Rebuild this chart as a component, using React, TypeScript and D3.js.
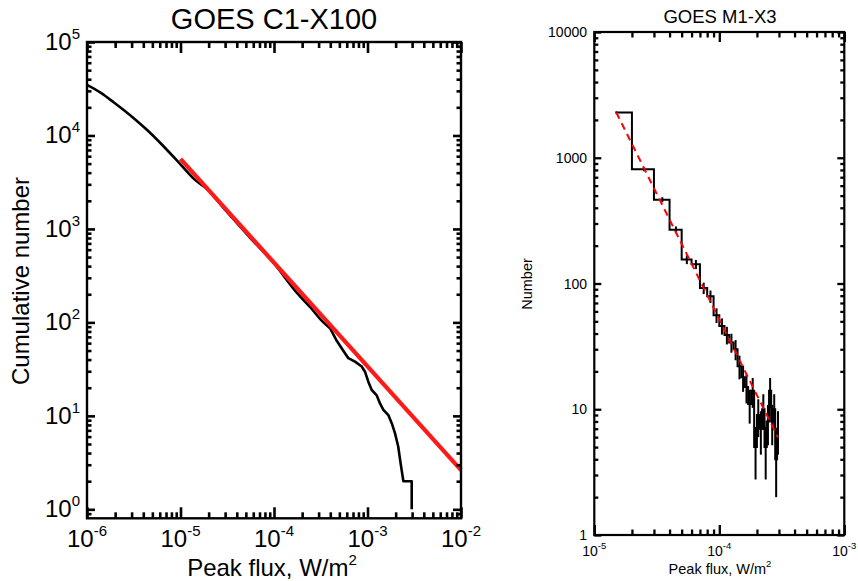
import React, { useEffect, useRef } from 'react';
import * as d3 from 'd3';

// ---------- Left panel data (cumulative distribution) ----------
const leftFlux = [
  1e-6, 1.41e-6, 1.91e-6, 3.16e-6, 4.37e-6, 6.31e-6, 1e-5, 1.41e-5, 1.91e-5, 3.16e-5,
  5.62e-5, 1e-4, 1.78e-4, 2.51e-4, 3.16e-4, 3.97e-4, 4.69e-4, 5.51e-4, 6.24e-4, 7.35e-4,
  8.67e-4, 9.4e-4, 1.02e-3, 1.11e-3, 1.25e-3, 1.36e-3, 1.48e-3, 1.67e-3, 1.82e-3, 1.97e-3,
  2.13e-3, 2.26e-3, 2.42e-3, 2.97e-3, 2.97e-3,
];
const leftCount = [
  34700, 28500, 22800, 15300, 11500, 8000, 4900, 3390, 2690, 1510,
  794, 427, 204, 141, 107, 86.7, 63.5, 49.7, 41.4, 38.0,
  33.7, 29.7, 23.2, 18.9, 16.7, 13.6, 11.6, 10.2, 8.3, 6.5,
  4.7, 3.1, 2, 2, 1,
];
const leftFitFlux = [1e-5, 1e-2];
const leftFitCount = [5620, 2.63];
const leftXTicks = [1e-6, 1e-5, 1e-4, 1e-3, 1e-2];
const leftXTickExp = ['-6', '-5', '-4', '-3', '-2'];
const leftYTicks = [1, 10, 100, 1e3, 1e4, 1e5];
const leftYTickExp = ['0', '1', '2', '3', '4', '5'];

// ---------- Right panel data (differential histogram) ----------
const rightFlux = [
  1.5e-5, 2.5e-5, 3.5e-5, 4.5e-5, 5.5e-5, 6.5e-5, 7.5e-5, 8.5e-5, 9.5e-5, 10.5e-5,
  11.5e-5, 12.5e-5, 13.5e-5, 14.5e-5, 15.5e-5, 16.5e-5, 17.5e-5, 18.5e-5, 19.5e-5, 20.5e-5,
  21.5e-5, 22.5e-5, 23.5e-5, 24.5e-5, 25.5e-5, 26.5e-5, 27.5e-5, 28.5e-5, 29.5e-5,
];
const rightCounts = [
  2290, 810, 464, 268, 155, 142, 92, 79, 56, 46,
  39, 34, 30, 22, 18, 15, 11, 14, 5, 9,
  7, 10, 5, 8, 14, 8, 10, 4, 7,
];
const rightFitFlux = [1.5e-5, 2.95e-4];
const rightFitCount = [2290, 5.96];
const rightXTicks = [1e-5, 1e-4, 1e-3];
const rightXTickExp = ['-5', '-4', '-3'];
const rightYTicks = [1, 10, 100, 1000, 10000];
const rightYTickLabels = ['1', '10', '100', '1000', '10000'];

const FONT = "'Liberation Sans', Arial, Helvetica, sans-serif";

function minorTicks(lo: number, hi: number): number[] {
  const out: number[] = [];
  const dStart = Math.floor(Math.log10(lo)) - 1;
  const dEnd = Math.ceil(Math.log10(hi));
  for (let d = dStart; d <= dEnd; d++) {
    for (let m = 2; m <= 9; m++) {
      const v = m * Math.pow(10, d);
      if (v >= lo * 0.999 && v <= hi * 1.001) out.push(v);
    }
  }
  return out;
}

// Draws inward ticks on all four sides of a boxed log-log frame with d3-axis
function drawFrameAxes(
  g: SVGGElement, sx: any, sy: any,
  xMajor: number[], yMajor: number[],
  xMajLen: number, xMinLen: number, yMajLen: number, yMinLen: number, sw: number,
) {
  const sel = d3.select(g);
  sel.selectAll('*').remove();
  const xr = sx.range();
  const yr = sy.range();
  const L = xr[0], R = xr[1], B = yr[0], T = yr[1];
  const xd = sx.domain();
  const yd = sy.domain();
  const xMinor = minorTicks(xd[0], xd[1]);
  const yMinor = minorTicks(yd[0], yd[1]);
  const mk = (axis: any, tr: string) => {
    const a = sel.append('g').attr('transform', tr).call(axis);
    a.select('.domain').remove();
    a.selectAll('text').remove();
    a.selectAll('line').attr('stroke', '#000').attr('stroke-width', sw);
  };
  mk(d3.axisBottom(sx).tickValues(xMajor).tickSizeInner(-xMajLen).tickSizeOuter(0), `translate(0,${B})`);
  mk(d3.axisBottom(sx).tickValues(xMinor).tickSizeInner(-xMinLen).tickSizeOuter(0), `translate(0,${B})`);
  mk(d3.axisTop(sx).tickValues(xMajor).tickSizeInner(-xMajLen).tickSizeOuter(0), `translate(0,${T})`);
  mk(d3.axisTop(sx).tickValues(xMinor).tickSizeInner(-xMinLen).tickSizeOuter(0), `translate(0,${T})`);
  mk(d3.axisLeft(sy).tickValues(yMajor).tickSizeInner(-yMajLen).tickSizeOuter(0), `translate(${L},0)`);
  mk(d3.axisLeft(sy).tickValues(yMinor).tickSizeInner(-yMinLen).tickSizeOuter(0), `translate(${L},0)`);
  mk(d3.axisRight(sy).tickValues(yMajor).tickSizeInner(-yMajLen).tickSizeOuter(0), `translate(${R},0)`);
  mk(d3.axisRight(sy).tickValues(yMinor).tickSizeInner(-yMinLen).tickSizeOuter(0), `translate(${R},0)`);
}

export default function App() {
  const leftAxesRef = useRef<SVGGElement>(null);
  const rightAxesRef = useRef<SVGGElement>(null);

  const lx = d3.scaleLog().domain([1e-6, 1e-2]).range([87, 461]);
  const ly = d3.scaleLog().domain([Math.pow(10, -0.096), 1e5]).range([518.3, 42]);
  const rx = d3.scaleLog().domain([1e-5, 1e-3]).range([594.3, 844.3]);
  const ry = d3.scaleLog().domain([1, 10000]).range([535, 32]);

  useEffect(() => {
    if (leftAxesRef.current) drawFrameAxes(leftAxesRef.current, lx, ly, leftXTicks, leftYTicks, 11, 6, 8, 4.5, 2.6);
    if (rightAxesRef.current) drawFrameAxes(rightAxesRef.current, rx, ry, rightXTicks, rightYTicks, 10, 5.5, 7, 4, 2.3);
  }, []);

  const nSmooth = 16;
  const smoothLine = d3.line<number>()
    .x((_, i) => lx(leftFlux[i]))
    .y((d) => ly(d))
    .curve(d3.curveMonotoneX);
  const tailLine = d3.line<number>()
    .x((_, i) => lx(leftFlux[i + nSmooth - 1]))
    .y((d) => ly(d));
  const leftFit = d3.line<number>().x((_, i) => lx(leftFitFlux[i])).y((d) => ly(d));
  const rightFit = d3.line<number>().x((_, i) => rx(rightFitFlux[i])).y((d) => ry(d));

  // IDL psym=10 style histogram
  const histPts: [number, number][] = [[rightFlux[0], rightCounts[0]]];
  for (let i = 0; i < rightFlux.length - 1; i++) {
    const mid = (rightFlux[i] + rightFlux[i + 1]) / 2;
    histPts.push([mid, rightCounts[i]]);
    histPts.push([mid, rightCounts[i + 1]]);
  }
  histPts.push([rightFlux[rightFlux.length - 1], rightCounts[rightCounts.length - 1]]);
  const histLine = d3.line<[number, number]>().x((d) => rx(d[0])).y((d) => ry(d[1]));

  return (
    <svg width={858} height={581} viewBox="0 0 858 581"
      style={{ position: 'absolute', left: 0, top: 0, background: '#fff' }}
      fontFamily={FONT}>
      <rect x={0} y={0} width={858} height={581} fill="#fff" />

      {/* ---------- Left panel ---------- */}
      <text x={274} y={29} fontSize={29} textAnchor="middle">GOES C1-X100</text>
      <path d={smoothLine(leftCount.slice(0, nSmooth)) || ''} fill="none" stroke="#000" strokeWidth={2.6} strokeLinejoin="round" />
      <path d={tailLine(leftCount.slice(nSmooth - 1)) || ''} fill="none" stroke="#000" strokeWidth={2.6} strokeLinejoin="round" />
      <path d={leftFit(leftFitCount) || ''} fill="none" stroke="#ff1a1a" strokeWidth={4.2} />
      <rect x={87} y={42} width={374} height={476.3} fill="none" stroke="#000" strokeWidth={2.4} />
      <g ref={leftAxesRef} />
      {leftXTicks.map((v, i) => (
        <text key={'lxl' + i} x={lx(v)} y={547} fontSize={24} textAnchor="middle">
          10<tspan fontSize={15} dy={-11}>{leftXTickExp[i]}</tspan>
        </text>
      ))}
      {leftYTicks.map((v, i) => (
        <text key={'lyl' + i} x={80} y={ly(v) + 8} fontSize={24} textAnchor="end">
          10<tspan fontSize={15} dy={-11}>{leftYTickExp[i]}</tspan>
        </text>
      ))}
      <text x={272} y={576} fontSize={24} textAnchor="middle">
        Peak flux, W/m<tspan fontSize={15} dy={-11}>2</tspan>
      </text>
      <text transform="translate(29,281) rotate(-90)" fontSize={24} textAnchor="middle">Cumulative number</text>

      {/* ---------- Right panel ---------- */}
      <text x={720} y={23} fontSize={18.5} textAnchor="middle">GOES M1-X3</text>
      <path d={histLine(histPts) || ''} fill="none" stroke="#000" strokeWidth={2} />
      {rightFlux.map((f, i) => {
        const n = rightCounts[i];
        const e = Math.sqrt(n);
        return <line key={'err' + i} x1={rx(f)} x2={rx(f)} y1={ry(Math.max(n - e, 1))} y2={ry(n + e)} stroke="#000" strokeWidth={2} />;
      })}
      <path d={rightFit(rightFitCount) || ''} fill="none" stroke="#ff0000" strokeWidth={2} strokeDasharray="7,5" />
      <rect x={594.3} y={32} width={250} height={503} fill="none" stroke="#000" strokeWidth={2.2} />
      <g ref={rightAxesRef} />
      {rightXTicks.map((v, i) => (
        <text key={'rxl' + i} x={rx(v)} y={556} fontSize={14} textAnchor="middle">
          10<tspan fontSize={9.5} dy={-7}>{rightXTickExp[i]}</tspan>
        </text>
      ))}
      {rightYTicks.map((v, i) => (
        <text key={'ryl' + i} x={587} y={ry(v) + 5} fontSize={14} textAnchor="end">{rightYTickLabels[i]}</text>
      ))}
      <text x={720} y={574} fontSize={14.5} textAnchor="middle">
        Peak flux, W/m<tspan fontSize={9.5} dy={-7}>2</tspan>
      </text>
      <text transform="translate(532,284) rotate(-90)" fontSize={14.5} textAnchor="middle">Number</text>
    </svg>
  );
}
